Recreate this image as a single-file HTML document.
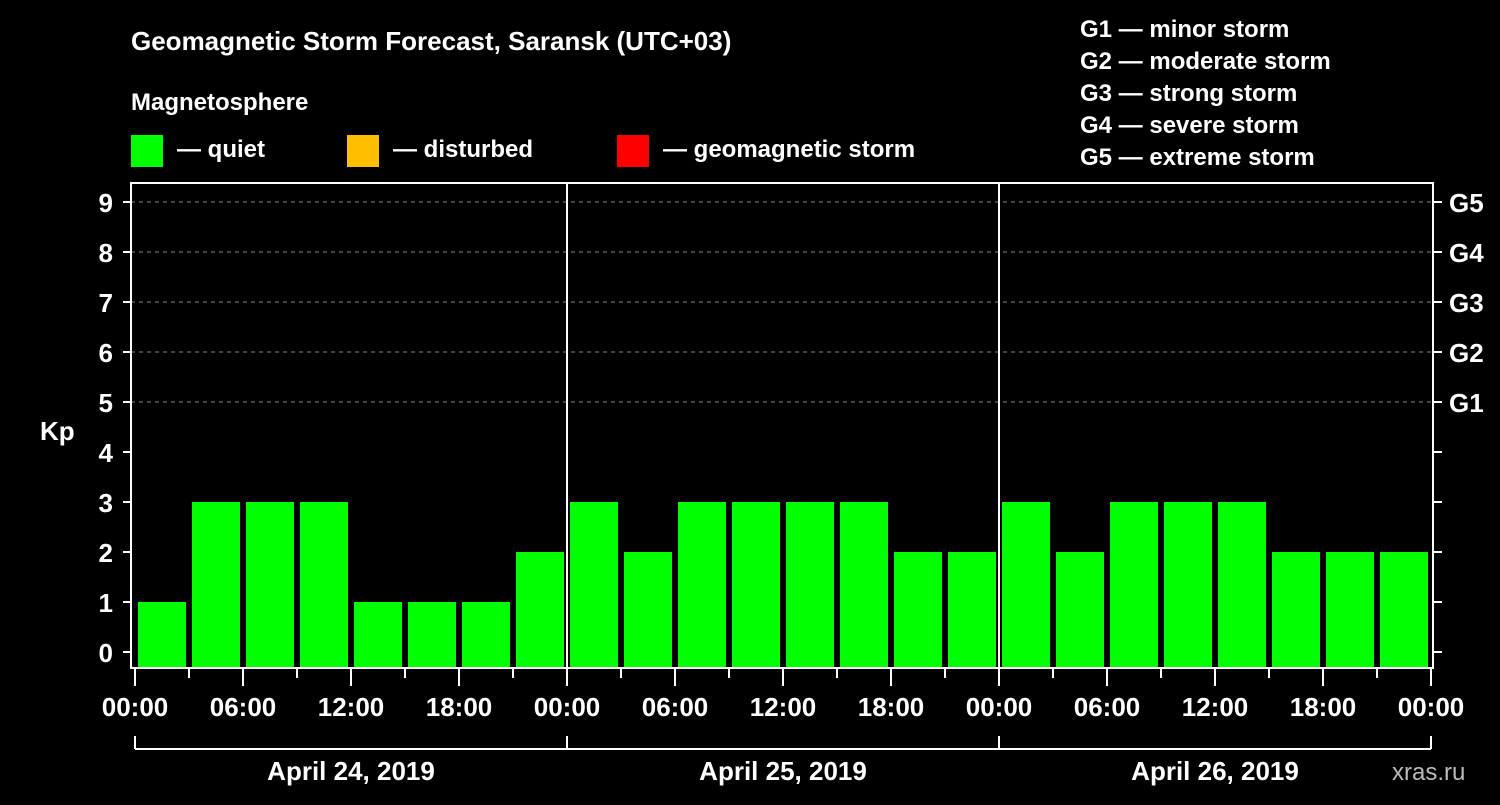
<!DOCTYPE html>
<html><head><meta charset="utf-8"><style>
body{margin:0;background:#000;width:1500px;height:800px;overflow:hidden;font-family:"Liberation Sans",sans-serif}
text{font-family:"Liberation Sans",sans-serif;font-weight:bold;fill:#fff}
</style></head><body>
<svg id="c" width="1500" height="800">
<text x="131" y="50" font-size="26">Geomagnetic Storm Forecast, Saransk (UTC+03)</text>
<text x="131" y="110" font-size="24">Magnetosphere</text>
<rect x="131" y="135" width="32" height="32" fill="#00ff00"/>
<text x="177" y="157" font-size="24">— quiet</text>
<rect x="347" y="135" width="32" height="32" fill="#ffbf00"/>
<text x="393" y="157" font-size="24">— disturbed</text>
<rect x="617" y="135" width="32" height="32" fill="#ff0000"/>
<text x="663" y="157" font-size="24">— geomagnetic storm</text>
<g font-size="24">
<text x="1080" y="37">G1 — minor storm</text>
<text x="1080" y="69">G2 — moderate storm</text>
<text x="1080" y="101">G3 — strong storm</text>
<text x="1080" y="133">G4 — severe storm</text>
<text x="1080" y="165">G5 — extreme storm</text>
</g>
<text x="40" y="440" font-size="26">Kp</text>
<text x="1392" y="780" font-size="24" fill="#bbb" style="fill:#bbb;font-weight:normal">xras.ru</text>
<g id="plot"></g>
</svg>
<script>
const days=["April 24, 2019","April 25, 2019","April 26, 2019"];
const kp=[1,3,3,3,1,1,1,2, 3,2,3,3,3,3,2,2, 3,2,3,3,3,2,2,2];
const yTicks=[0,1,2,3,4,5,6,7,8,9];
const gLabels=["G1","G2","G3","G4","G5"];
const gLevels=[5,6,7,8,9];
const hourLabels=["00:00","06:00","12:00","18:00"];
const NS="http://www.w3.org/2000/svg";
const g=document.getElementById('plot');
const X0=135,DAY=432,L=131,R=1433,T=183,B=668;
const xs=h=>X0+h/24*DAY;
const ys=v=>652-v*50;
function mk(t,a,txt){const e=document.createElementNS(NS,t);for(const k in a)e.setAttribute(k,a[k]);if(txt!==undefined)e.textContent=txt;g.appendChild(e);return e;}
// grid
gLevels.forEach((v,i)=>{
 const l=mk('line',{x1:L,x2:R,y1:ys(v),y2:ys(v),stroke:'#888','stroke-dasharray':'4,4','stroke-width':1});
 
 
 const t=mk('text',{x:1449,y:ys(v)+10,'font-size':26},gLabels[i]);
 
 
});
// bars
kp.forEach((v,i)=>{
 const r=mk('rect',{x:xs(i*3)+3,y:ys(v),width:48,height:B-ys(v),fill:'#00ff00'});
 
 
});
// frame
const f=mk('rect',{x:L,y:T,width:R-L,height:B-T,fill:'none',stroke:'#fff','stroke-width':2});


for(let d=1;d<days.length;d++){
 const l=mk('line',{x1:xs(d*24),x2:xs(d*24),y1:T,y2:B,stroke:'#fff','stroke-width':2});
 
 
}
// y ticks
yTicks.forEach(v=>{
 mk('line',{x1:123,x2:L,y1:ys(v),y2:ys(v),stroke:'#fff','stroke-width':2});
 mk('line',{x1:R,x2:1442,y1:ys(v),y2:ys(v),stroke:'#fff','stroke-width':2});
 const t=mk('text',{x:113,y:ys(v)+10,'font-size':26,'text-anchor':'end'},v);
 
 
});
// x ticks
for(let h=0;h<=days.length*24;h+=3){
 const major=h%6===0;
 mk('line',{x1:xs(h),x2:xs(h),y1:B,y2:major?686:678,stroke:'#fff','stroke-width':2});
 if(major&&(h%24)%6===0){
  const lbl=h===days.length*24?"00:00":hourLabels[(h%24)/6];
  const t=mk('text',{x:xs(h),y:716,'font-size':26,'text-anchor':'middle'},lbl);
  
  
 }
}
// day brackets
mk('line',{x1:xs(0),x2:xs(days.length*24),y1:749,y2:749,stroke:'#fff','stroke-width':2});
days.forEach((d,i)=>{
 mk('line',{x1:xs(i*24),x2:xs(i*24),y1:736,y2:749,stroke:'#fff','stroke-width':2});
 const t=mk('text',{x:xs(i*24+12),y:780,'font-size':26,'text-anchor':'middle'},d);
 
 
});
mk('line',{x1:xs(days.length*24),x2:xs(days.length*24),y1:736,y2:749,stroke:'#fff','stroke-width':2});
</script>
</body></html>
